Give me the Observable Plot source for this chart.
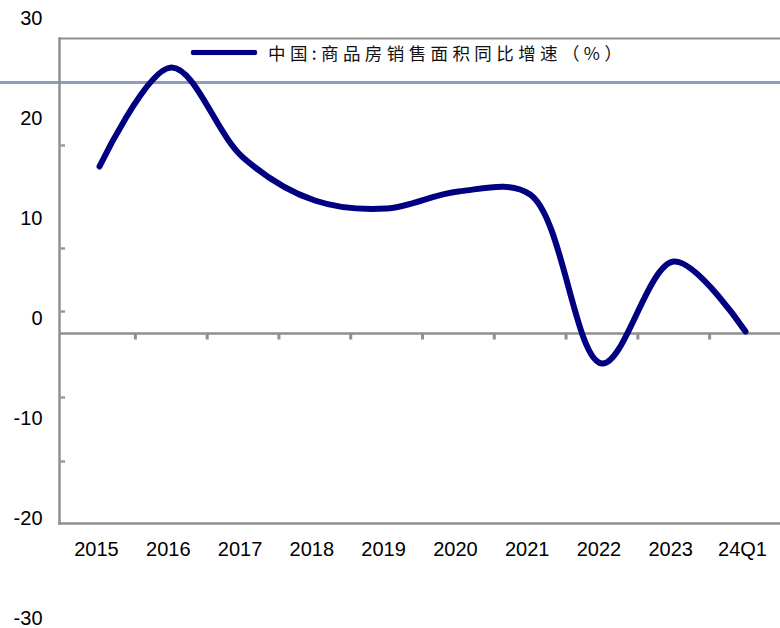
<!DOCTYPE html>
<html>
<head>
<meta charset="utf-8">
<script src="https://cdn.jsdelivr.net/npm/d3@7"></script>
<script src="https://cdn.jsdelivr.net/npm/@observablehq/plot@0.6"></script>
<style>
  html, body { margin: 0; padding: 0; background: #fff; }
  #wrap { position: relative; width: 780px; height: 628px; overflow: hidden; }
  #legend { position: absolute; left: 191px; top: 40px; display: flex; align-items: center;
            font-family: "Noto Sans CJK SC", sans-serif; font-size: 17.5px; letter-spacing: 4.4px; color: #111; white-space: nowrap; }
  #legend .sw { width: 66px; height: 5px; background: #000080; border-radius: 2px; margin-right: 11px;
                box-shadow: 0 0 1px #5a5ab0; }
</style>
</head>
<body>
<div id="wrap">
  <div id="chart"></div>
  <div id="legend"><span class="sw"></span><span>中国:商品房销售面积同比增速（%）</span></div>
</div>
<script>
const years = ["2015", "2016", "2017", "2018", "2019", "2020", "2021", "2022", "2023", "24Q1"];
const growth = [15.2, 25.1, 16.1, 11.8, 11.0, 12.7, 12.4, -4.5, 5.7, -1.3];
const yTickLabels = [30, 20, 10, 0, -10, -20, -30];
const minorTicks = [17.3, 7.0, 0.7, -7.9, -14.3];
const strayLine = 23.6;
const baseline = -1.5;

const data = years.map((label, i) => ({i, label, value: growth[i]}));
const mids = d3.range(years.length - 1).map(i => i + 0.5);

const chart = Plot.plot({
  width: 780,
  height: 628,
  marginLeft: 59,
  marginRight: 0,
  marginTop: 38,
  marginBottom: 105,
  style: {fontFamily: "'Liberation Sans', Arial, sans-serif", fontSize: "20px", color: "#000", background: "#fff", overflow: "visible"},
  x: {domain: [0, 9], range: [99, 745], axis: null},
  y: {domain: [-20.5, 28], axis: null, label: null},
  marks: [
    Plot.ruleY([strayLine], {stroke: "#8b9dc3", strokeWidth: 3, insetLeft: -59}),
    Plot.frame({anchor: "top", stroke: "#8f8f8f", strokeWidth: 2}),
    Plot.frame({anchor: "left", stroke: "#8f8f8f", strokeWidth: 2.5}),
    Plot.frame({anchor: "bottom", stroke: "#8f8f8f", strokeWidth: 2.5}),
    Plot.ruleY([baseline], {stroke: "#8f8f8f", strokeWidth: 2.7}),
    Plot.ruleX(mids, {y1: baseline, y2: baseline - 0.65, stroke: "#8f8f8f", strokeWidth: 3}),
    Plot.tickY(minorTicks, {y: d => d, frameAnchor: "left", stroke: "#9a9a9a", strokeWidth: 2.5, insetRight: 715}),
    Plot.text(yTickLabels, {y: d => d, text: d => String(d), frameAnchor: "left", textAnchor: "end", dx: -17, fontSize: 20}),
    Plot.text(data, {x: "i", text: "label", frameAnchor: "bottom", dy: 32, dx: -3, fontSize: 20}),
    Plot.line(data, {x: "i", y: "value", curve: "catmull-rom", stroke: "#000080", strokeWidth: 6, strokeLinecap: "round", strokeLinejoin: "round"})
  ]
});
document.getElementById("chart").appendChild(chart);
</script>
</body>
</html>
